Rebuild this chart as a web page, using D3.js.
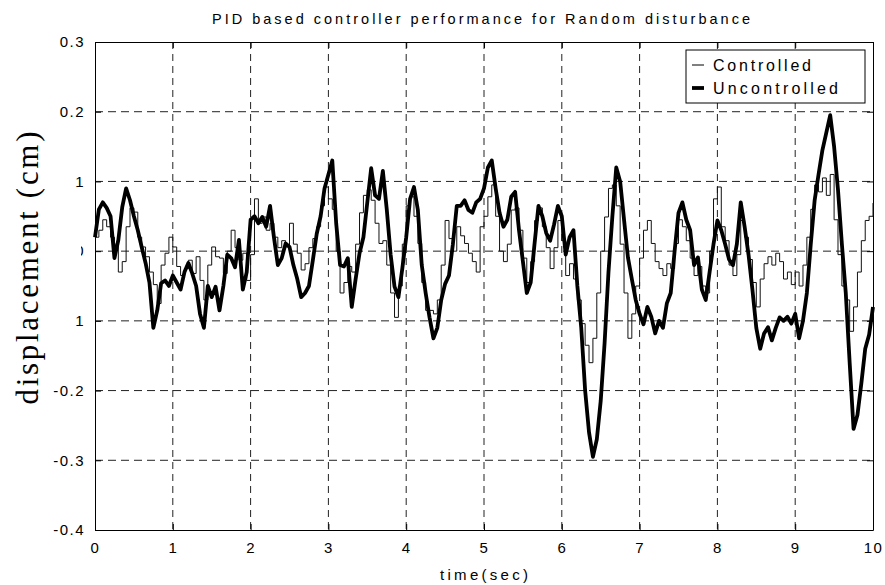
<!DOCTYPE html>
<html>
<head>
<meta charset="utf-8">
<script src="https://cdn.jsdelivr.net/npm/d3@7"></script>
<style>
  body { margin: 0; background: #fff; }
  text { font-family: "Liberation Sans", Arial, sans-serif; fill: #000; }
</style>
</head>
<body>
<div class="chart"></div>
<script>
// sample step of both records (sec)
var dt = 0.05;

var controlled = [
  0.02, 0.03, 0.045, 0.035, 0.02, 0.01, -0.03, -0.015, 0.035, 0.062,
  0.056, 0.02, 0.006, -0.008, -0.03, -0.048, -0.075, -0.02, -0.003, 0.02,
  0.006, -0.022, -0.035, -0.025, -0.013, -0.032, -0.008, -0.042, -0.07, -0.02,
  0.006, -0.008, -0.01, -0.032, 0.0, 0.03, 0.005, -0.013, -0.003, -0.042,
  -0.005, 0.075, 0.04, 0.049, 0.03, 0.04, 0.02, 0.005, 0.015, 0.006,
  0.04, 0.01, -0.003, -0.027, -0.018, 0.005, 0.018, 0.035, 0.065, 0.092,
  0.075, 0.06, 0.0, -0.06, -0.045, -0.022, -0.03, 0.01, 0.055, 0.08,
  0.088, 0.073, 0.04, 0.011, 0.015, -0.02, -0.06, -0.095, -0.05, 0.01,
  0.065, 0.078, 0.05, 0.011, -0.045, -0.085, -0.085, -0.09, -0.07, -0.02,
  0.044, 0.018, 0.0, 0.035, 0.022, 0.011, -0.003, -0.015, -0.03, 0.035,
  0.05, 0.078, 0.095, 0.05, 0.0, -0.015, 0.01, 0.059, 0.062, 0.03,
  -0.01, -0.045, -0.015, 0.044, 0.062, 0.035, 0.005, -0.025, 0.005, 0.044,
  0.015, -0.035, -0.018, -0.04, -0.07, -0.104, -0.135, -0.16, -0.125, -0.06,
  0.0, 0.049, 0.09, 0.095, 0.065, 0.01, -0.06, -0.125, -0.09, -0.05,
  -0.01, 0.03, 0.044, 0.011, -0.015, -0.025, -0.035, -0.018, -0.025, 0.011,
  0.045, 0.035, 0.015, -0.01, -0.035, -0.022, -0.05, -0.06, 0.0, 0.075,
  0.092, 0.035, 0.015, -0.02, -0.035, -0.005, 0.044, 0.02, -0.012, -0.045,
  -0.08, -0.04, -0.018, -0.008, -0.02, -0.003, -0.015, -0.04, -0.03, -0.048,
  -0.03, -0.05, -0.02, 0.02, 0.06, 0.095, 0.085, 0.105, 0.08, 0.11,
  0.045, -0.005, -0.05, -0.07, -0.115, -0.08, -0.03, 0.015, 0.044, 0.05,
  0.069
];

var uncontrolled = [
  0.02, 0.06, 0.07, 0.062, 0.05, -0.01, 0.016, 0.063, 0.09, 0.073,
  0.05, 0.03, 0.006, -0.017, -0.045, -0.11, -0.085, -0.046, -0.042, -0.05,
  -0.035, -0.045, -0.055, -0.03, -0.017, -0.032, -0.05, -0.09, -0.11, -0.05,
  -0.066, -0.051, -0.085, -0.05, -0.005, -0.01, -0.023, 0.016, -0.055, -0.03,
  0.045, 0.05, 0.04, 0.049, 0.035, 0.065, 0.02, -0.02, -0.01, 0.011,
  0.006, -0.02, -0.04, -0.066, -0.06, -0.05, -0.013, 0.025, 0.05, 0.09,
  0.11, 0.13, 0.04, -0.02, -0.022, -0.01, -0.08, -0.04, -0.003, 0.02,
  0.07, 0.119, 0.08, 0.075, 0.115, 0.06, -0.005, -0.051, -0.066, -0.025,
  0.02, 0.075, 0.092, 0.059, -0.02, -0.06, -0.095, -0.125, -0.11, -0.07,
  -0.047, -0.035, 0.01, 0.065, 0.065, 0.073, 0.059, 0.055, 0.07, 0.075,
  0.09, 0.12, 0.13, 0.09, 0.055, 0.035, 0.045, 0.078, 0.085, 0.03,
  -0.015, -0.06, -0.045, 0.011, 0.065, 0.05, 0.026, 0.015, 0.038, 0.065,
  0.05, -0.005, 0.02, 0.03, -0.05, -0.11, -0.2, -0.26, -0.295, -0.27,
  -0.215, -0.132, -0.03, 0.05, 0.12, 0.1, 0.045, -0.009, -0.04, -0.07,
  -0.09, -0.105, -0.08, -0.094, -0.118, -0.1, -0.11, -0.075, -0.06, 0.0,
  0.055, 0.07, 0.045, 0.03, -0.02, -0.009, -0.055, -0.07, -0.03, 0.01,
  0.044, 0.03, 0.01, -0.012, -0.02, 0.01, 0.07, 0.035, -0.005, -0.055,
  -0.11, -0.14, -0.118, -0.109, -0.128, -0.11, -0.095, -0.1, -0.094, -0.104,
  -0.09, -0.125, -0.1, -0.06, 0.01, 0.073, 0.11, 0.145, 0.17, 0.195,
  0.15, 0.088, 0.01, -0.06, -0.16, -0.255, -0.235, -0.19, -0.14, -0.12,
  -0.08
];

var xTicks = [0, 1, 2, 3, 4, 5, 6, 7, 8, 9, 10];
var yTicks = [-0.4, -0.3, -0.2, -0.1, 0, 0.1, 0.2, 0.3];
// labels as printed in the figure (some are cut off)
var yTickLabels = ['-0.4', '-0.3', '-0.2', '1', '0', '1', '0.2', '0.3'];

var margin = { top: 42, right: 12, bottom: 55, left: 95 };
var width = 885 - margin.left - margin.right;
var height = 585 - margin.top - margin.bottom;

var root = d3.select('.chart')
  .append('svg')
    .attr('width', 885)
    .attr('height', 585);

var svg = root.append('g')
    .attr('transform', `translate(${margin.left}, ${margin.top})`);

var xScale = d3.scaleLinear().domain([0, 10]).range([0, width]);
var yScale = d3.scaleLinear().domain([-0.4, 0.3]).range([height, 0]);

// dashed grid
svg.append('g')
  .selectAll('line')
  .data(xTicks.slice(1, -1))
  .enter().append('line')
    .attr('x1', d => xScale(d)).attr('x2', d => xScale(d))
    .attr('y1', 0).attr('y2', height)
    .attr('stroke', '#222')
    .attr('stroke-dasharray', '7,5');

svg.append('g')
  .selectAll('line')
  .data(yTicks.slice(1, -1))
  .enter().append('line')
    .attr('x1', 0).attr('x2', width)
    .attr('y1', d => yScale(d)).attr('y2', d => yScale(d))
    .attr('stroke', '#222')
    .attr('stroke-dasharray', '8,5');

// axes, ticks pointing inward
var axisBottom = svg.append('g')
  .attr('transform', `translate(0, ${height})`)
  .call(d3.axisBottom(xScale).tickValues(xTicks).tickSizeInner(-6).tickSizeOuter(0).tickPadding(12));
var axisTop = svg.append('g')
  .call(d3.axisTop(xScale).tickValues(xTicks).tickSizeInner(-6).tickSizeOuter(0).tickFormat(''));
var axisLeft = svg.append('g')
  .call(d3.axisLeft(yScale).tickValues(yTicks).tickSizeInner(-6).tickSizeOuter(0).tickPadding(10)
    .tickFormat((d, i) => yTickLabels[i]));
var axisRight = svg.append('g')
  .attr('transform', `translate(${width}, 0)`)
  .call(d3.axisRight(yScale).tickValues(yTicks).tickSizeInner(-6).tickSizeOuter(0).tickFormat(''));

[axisBottom, axisTop, axisLeft, axisRight].forEach(function (g) {
  g.select('.domain').attr('stroke', '#000');
  g.selectAll('line').attr('stroke', '#000');
  g.selectAll('text')
    .style('font-size', '15px')
    .style('letter-spacing', '1.5px')
    .attr('fill', '#000');
});

// the "0" label is mostly cut away in the figure
root.append('defs').append('clipPath').attr('id', 'zeroclip')
  .append('rect').attr('x', -14).attr('y', -20).attr('width', 20).attr('height', 40);
axisLeft.selectAll('.tick').filter(d => d === 0).select('text')
  .attr('clip-path', 'url(#zeroclip)');

// series
var line = d3.line()
  .x((d, i) => xScale(i * dt))
  .y(d => yScale(d));

svg.append('path')
  .datum(controlled)
  .attr('fill', 'none')
  .attr('stroke', '#111')
  .attr('stroke-width', 1)
  .attr('d', line.curve(d3.curveStepAfter));

svg.append('path')
  .datum(uncontrolled)
  .attr('fill', 'none')
  .attr('stroke', '#000')
  .attr('stroke-width', 3.8)
  .attr('stroke-linejoin', 'round')
  .attr('d', line.curve(d3.curveLinear));

// legend
var legend = root.append('g').attr('transform', 'translate(686, 50)');
legend.append('rect')
  .attr('width', 179).attr('height', 53)
  .attr('fill', '#fff').attr('stroke', '#000');
legend.append('line')
  .attr('x1', 6).attr('x2', 18).attr('y1', 15).attr('y2', 15)
  .attr('stroke', '#000').attr('stroke-width', 1);
legend.append('line')
  .attr('x1', 6).attr('x2', 18).attr('y1', 38).attr('y2', 38)
  .attr('stroke', '#000').attr('stroke-width', 3.8);
legend.append('text')
  .attr('x', 27).attr('y', 21)
  .attr('textLength', 98).attr('lengthAdjust', 'spacing')
  .style('font-size', '16px')
  .text('Controlled');
legend.append('text')
  .attr('x', 27).attr('y', 44)
  .attr('textLength', 125).attr('lengthAdjust', 'spacing')
  .style('font-size', '16px')
  .text('Uncontrolled');

// titles
root.append('text')
  .attr('x', 212).attr('y', 24)
  .attr('textLength', 538).attr('lengthAdjust', 'spacing')
  .style('font-size', '14.5px')
  .text('PID based controller performance for Random disturbance');

root.append('text')
  .attr('x', 440).attr('y', 580)
  .attr('textLength', 88).attr('lengthAdjust', 'spacing')
  .style('font-size', '15px')
  .text('time(sec)');

root.append('text')
  .attr('transform', 'translate(38, 268) rotate(-90)')
  .attr('text-anchor', 'middle')
  .attr('textLength', 273).attr('lengthAdjust', 'spacing')
  .style('font-family', '"Liberation Serif", "Times New Roman", serif')
  .style('font-size', '31px')
  .text('displacement  (cm)');
</script>
</body>
</html>
